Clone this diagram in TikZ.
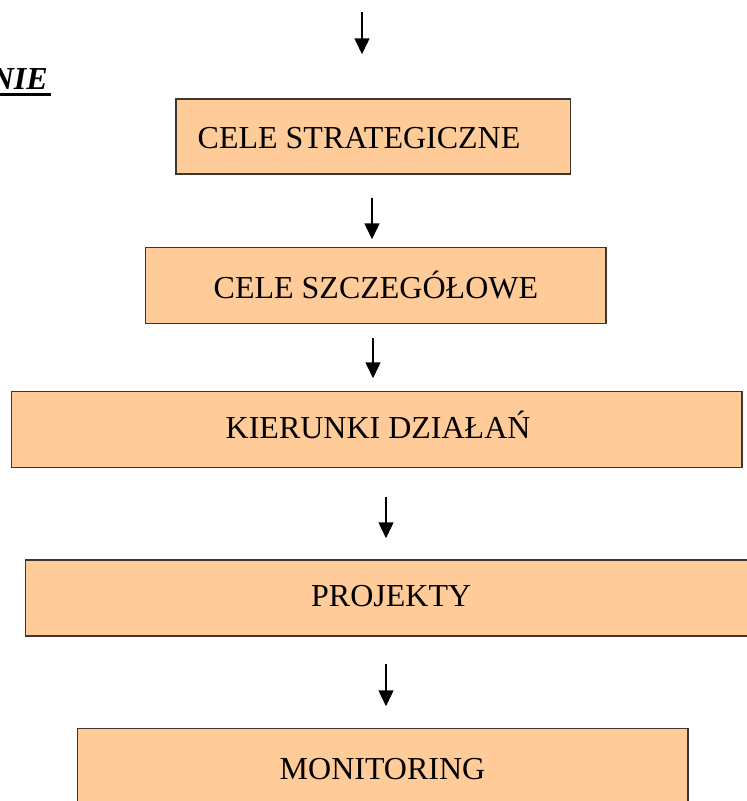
\documentclass[tikz,border=0pt]{standalone}
\usepackage{fontspec}
\setmainfont{Liberation Serif}
\usetikzlibrary{arrows.meta}
\definecolor{peach}{RGB}{255,204,153}
\definecolor{edge}{RGB}{62,55,48}
\begin{document}
\begin{tikzpicture}[x=1pt,y=-1pt,
  boxstyle/.style={draw=edge,fill=peach,line width=1.5pt,inner sep=0pt,rectangle},
  lbl/.style={anchor=base west,inner sep=0pt,font=\fontsize{32}{38}\selectfont},
  arr/.style={line width=1.5pt,-{Triangle[length=16pt,width=15pt]}}]
\useasboundingbox (0,0) rectangle (747,801);
% boxes
\node[boxstyle,minimum width=394.7pt,minimum height=75pt] (b1) at (373.35,136.5) {};
\node[boxstyle,minimum width=460.3pt,minimum height=75.6pt] (b2) at (375.85,285.5) {};
\node[boxstyle,minimum width=730.7pt,minimum height=75.6pt] (b3) at (376.65,429.5) {};
\node[boxstyle,minimum width=729.3pt,minimum height=76pt] (b4) at (390.35,598) {};
\node[boxstyle,minimum width=610.3pt,minimum height=76pt] (b5) at (382.85,766.3) {};
% labels
\node[lbl] (t1) at (197.5,148) {CELE STRATEGICZNE};
\node[lbl] (t2) at (213.5,298.5) {CELE SZCZEGÓŁOWE};
\node[lbl] (t3) at (225.5,438) {KIERUNKI DZIAŁAŃ};
\node[lbl] (t4) at (311,606) {PROJEKTY};
\node[lbl] (t5) at (279.5,779) {MONITORING};
% title fragment
\node[anchor=base east,inner sep=0pt,font=\fontsize{32}{38}\selectfont\bfseries\itshape] (nie) at (48,89) {NIE};
\draw[line width=3.3pt] ([xshift=-6pt,yshift=-5.3pt]nie.base west) -- ([xshift=2.5pt,yshift=-5.3pt]nie.base east);
% arrows
\coordinate (c0) at (362,12);
\coordinate (c1) at (372,0);
\coordinate (c2) at (373,0);
\coordinate (c3) at (386,0);
\draw[arr,shorten >=44pt] (c0) -- (c0 |- b1.north);
\draw[arr,shorten <=23pt,shorten >=7.7pt] (c1 |- b1.south) -- (c1 |- b2.north);
\draw[arr,shorten <=13.7pt,shorten >=12.7pt] (c2 |- b2.south) -- (c2 |- b3.north);
\draw[arr,shorten <=29pt,shorten >=21pt] (c3 |- b3.south) -- (c3 |- b4.north);
\draw[arr,shorten <=27.3pt,shorten >=21.3pt] (c3 |- b4.south) -- (c3 |- b5.north);
\end{tikzpicture}
\end{document}
